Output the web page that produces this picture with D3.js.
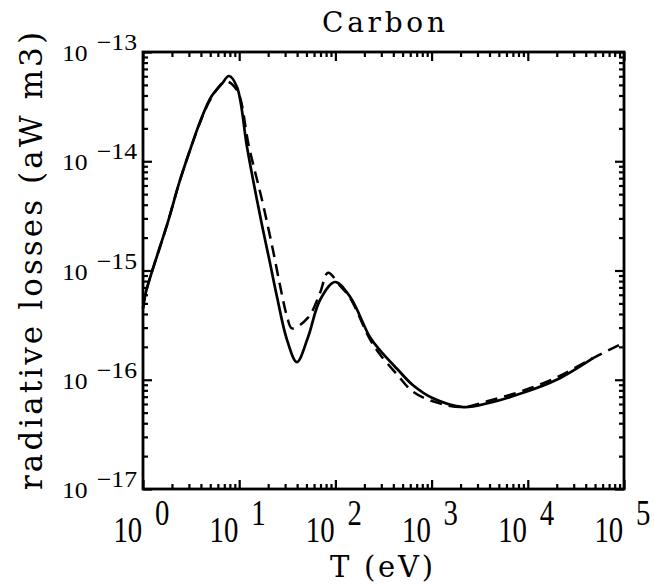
<!DOCTYPE html>
<html>
<head>
<meta charset="utf-8">
<script src="https://cdn.jsdelivr.net/npm/d3@7"></script>
<style>
  html, body { margin: 0; padding: 0; background: #fff; }
  svg { display: block; }
</style>
</head>
<body>
<svg id="chart" width="655" height="586"></svg>
<script>
// temperature (eV) and radiative losses, solid curve
const solidT = [1, 1.07, 1.82, 2.41, 3.16, 3.99, 5.12, 6.58, 7.83, 9.48, 12.05, 15.3, 17.7, 20.9, 24.7, 31.4, 39.8, 51.9, 69.2, 99.1, 142, 229, 291, 437, 641, 1035, 2120, 4050, 8910, 19950, 47640];
const solidL = [4.5e-16, 6.3e-16, 2.8e-15, 6.6e-15, 1.35e-14, 2.4e-14, 3.9e-14, 5.1e-14, 6.03e-14, 4.79e-14, 1.35e-14, 4.42e-15, 2.34e-15, 1.17e-15, 5.75e-16, 2.32e-16, 1.45e-16, 2.45e-16, 5.37e-16, 7.85e-16, 5.75e-16, 2.45e-16, 1.86e-16, 1.26e-16, 8.9e-17, 6.76e-17, 5.62e-17, 6.17e-17, 7.59e-17, 1.0e-16, 1.58e-16];

// dashed curve
const dashT = [1, 1.07, 1.82, 2.41, 3.16, 3.99, 5.12, 7.24, 9.48, 12.65, 17.26, 22.4, 27.2, 31.4, 35.4, 51.9, 69.2, 83.8, 112, 142, 229, 291, 437, 641, 1140, 2120, 4050, 8910, 19950, 47640, 100000];
const dashL = [4.5e-16, 6.3e-16, 2.8e-15, 6.6e-15, 1.35e-14, 2.35e-14, 3.8e-14, 5.37e-14, 4.47e-14, 1.35e-14, 4.42e-15, 1.55e-15, 6.6e-16, 3.8e-16, 2.95e-16, 3.7e-16, 6.24e-16, 9.55e-16, 7.24e-16, 5.62e-16, 2.34e-16, 1.70e-16, 1.12e-16, 7.76e-17, 6.17e-17, 5.62e-17, 6.46e-17, 7.94e-17, 1.05e-16, 1.58e-16, 2.19e-16];

// tick labels (exponents)
const xExponents = ["0", "1", "2", "3", "4", "5"];
const yExponents = ["\u221213", "\u221214", "\u221215", "\u221216", "\u221217"];
const xMajor = [1, 10, 100, 1000, 10000, 100000];
const yMajor = [1e-13, 1e-14, 1e-15, 1e-16, 1e-17];

const Left = 143, Right = 624, Top = 52, Bottom = 489;

const svg = d3.select("#chart");

const x = d3.scaleLog().domain([1, 1e5]).range([Left, Right]);
const y = d3.scaleLog().domain([1e-17, 1e-13]).range([Bottom, Top]);

// minor ticks 2..9 per decade
const minorOf = (lo, hi) => {
  const out = [];
  for (let e = lo; e < hi; e++) for (let m = 2; m <= 9; m++) out.push(m * Math.pow(10, e));
  return out;
};
const xMinor = minorOf(0, 5);
const yMinor = minorOf(-17, -13);

const addAxis = (axisFn, scale, values, size, transform) => {
  const g = svg.append("g")
    .attr("transform", transform)
    .call(axisFn(scale).tickValues(values).tickSize(size).tickFormat(""));
  g.select(".domain").remove();
  g.selectAll(".tick line").attr("stroke", "#000").attr("stroke-width", 2.2);
};

addAxis(d3.axisBottom, x, xMajor, -9, `translate(0,${Bottom})`);
addAxis(d3.axisBottom, x, xMinor, -5, `translate(0,${Bottom})`);
addAxis(d3.axisTop, x, xMajor, -9, `translate(0,${Top})`);
addAxis(d3.axisTop, x, xMinor, -5, `translate(0,${Top})`);
addAxis(d3.axisLeft, y, yMajor, -9, `translate(${Left},0)`);
addAxis(d3.axisLeft, y, yMinor, -5, `translate(${Left},0)`);
addAxis(d3.axisRight, y, yMajor, -9, `translate(${Right},0)`);
addAxis(d3.axisRight, y, yMinor, -5, `translate(${Right},0)`);

// frame
svg.append("rect")
  .attr("x", Left).attr("y", Top)
  .attr("width", Right - Left).attr("height", Bottom - Top)
  .attr("fill", "none").attr("stroke", "#000").attr("stroke-width", 2.8);

const serif = "'Liberation Serif', 'DejaVu Serif', serif";

// x tick labels: 10 with raised exponent
xMajor.forEach((v, i) => {
  const g = svg.append("g")
    .attr("transform", `translate(${x(v)},542) scale(0.8,1)`)
    .attr("font-family", serif)
    .attr("font-size", 36)
    .attr("fill", "#000");
  g.append("text").attr("x", -37).attr("y", 0).text("10");
  g.append("text").attr("x", 15).attr("y", -17).text(xExponents[i]);
});

// y tick labels
yMajor.forEach((v, i) => {
  const g = svg.append("g")
    .attr("transform", `translate(137,${y(v)}) scale(1.12,1)`)
    .attr("font-family", serif)
    .attr("font-size", 23)
    .attr("fill", "#000");
  g.append("text").attr("x", -44).attr("y", 9).attr("text-anchor", "end").text("10");
  g.append("text").attr("x", 0).attr("y", -2).attr("text-anchor", "end").text(yExponents[i]);
});

// curves
const line = d3.line()
  .x(d => x(d[0]))
  .y(d => y(d[1]))
  .curve(d3.curveCatmullRom.alpha(0.5));

const plot = svg.append("g");

plot.append("path")
  .datum(dashT.map((t, i) => [t, dashL[i]]))
  .attr("d", line)
  .attr("fill", "none")
  .attr("stroke", "#000")
  .attr("stroke-width", 2.5)
  .attr("stroke-dasharray", "12,7");

plot.append("path")
  .datum(solidT.map((t, i) => [t, solidL[i]]))
  .attr("d", line)
  .attr("fill", "none")
  .attr("stroke", "#000")
  .attr("stroke-width", 2.7);

// titles
const titleFont = "'DejaVu Serif', 'Liberation Serif', serif";
svg.append("text")
  .attr("x", 322).attr("y", 32)
  .attr("font-family", titleFont).attr("font-size", 28)
  .attr("textLength", 123).attr("lengthAdjust", "spacing")
  .text("Carbon");

svg.append("text")
  .attr("x", 330).attr("y", 577)
  .attr("font-family", titleFont).attr("font-size", 29)
  .attr("textLength", 103).attr("lengthAdjust", "spacing")
  .text("T (eV)");

svg.append("text")
  .attr("transform", "translate(42,490) rotate(-90)")
  .attr("font-family", titleFont).attr("font-size", 31)
  .attr("textLength", 458).attr("lengthAdjust", "spacing")
  .text("radiative losses (aW m3)");
</script>
</body>
</html>
